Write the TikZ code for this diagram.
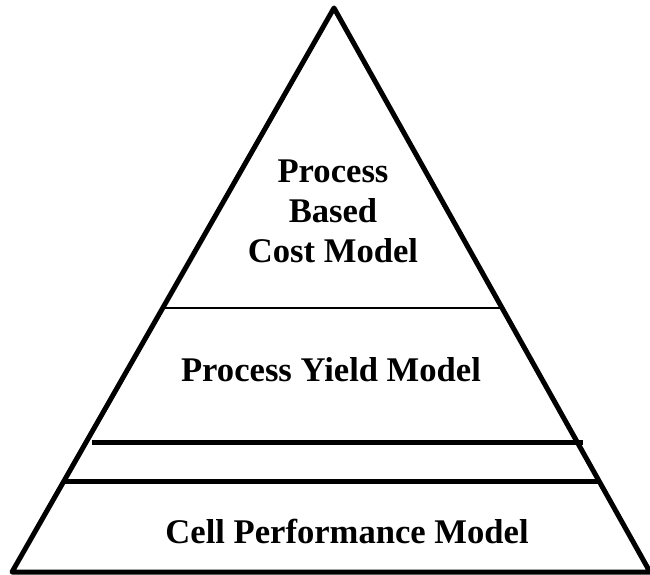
\documentclass[tikz,border=0pt]{standalone}
\usepackage{fontspec}
\setmainfont{Liberation Serif}
\usetikzlibrary{calc}

\begin{document}
\begin{tikzpicture}[x=1pt,y=-1pt,
  layer/.style={font=\fontsize{34.6}{40}\selectfont\bfseries,anchor=base,align=center}]
\useasboundingbox (0,0) rectangle (650,575);
% pyramid outline
\coordinate (top) at (334,8);
\coordinate (bl) at (12,572);
\coordinate (br) at (650,572);
\draw[line width = 5pt, line join=round] (top) -- (bl) -- (br) -- cycle;
% layer borders
\draw[line width = 1.5pt] ($(top)!0.532!(bl)$) -- ($(top)!0.532!(br)$);
\draw[line width = 5pt] ($(top)!0.7695!(bl) + (6,0)$) -- ($(top)!0.7695!(br) + (6,0)$);
\draw[line width = 5pt] ($(top)!0.8404!(bl)$) -- ($(top)!0.8404!(br)$);
% labels (base = last line)
\node[layer] (cost) at (333,262) {Process\\Based\\Cost Model};
\node[layer] (yield) at (331,381) {Process Yield Model};
\node[layer] (cell) at (347,543) {Cell Performance Model};
\end{tikzpicture}
\end{document}
